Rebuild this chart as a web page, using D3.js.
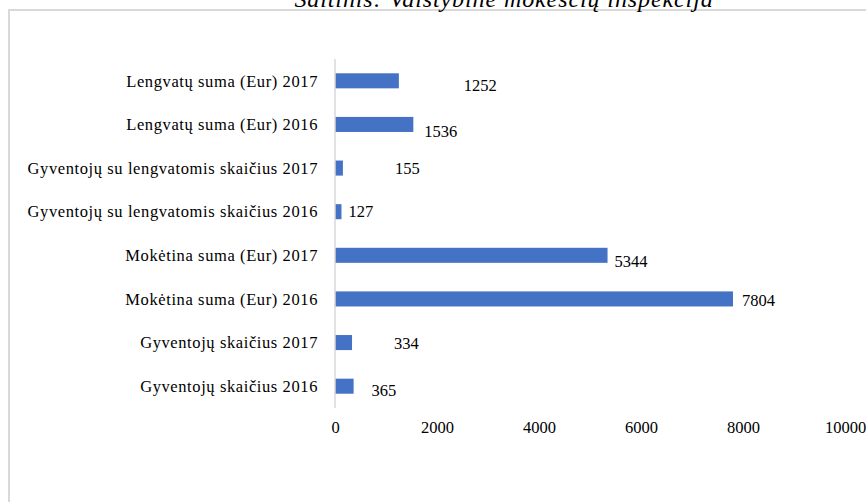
<!DOCTYPE html>
<html lang="lt">
<head>
<meta charset="UTF-8">
<title>Gyventojų skaičius ir mokėtina suma</title>
<script src="https://d3js.org/d3.v7.min.js"></script>
<style>
    body { margin: 0; background: #fff; }
    svg { display: block; font-family: "Liberation Serif", "Times New Roman", serif; }
    .cat { font-size: 16.5px; letter-spacing: 0.6px; fill: #000; text-anchor: end; }
    .tick text { font-size: 16.5px; fill: #000; }
    .val { font-size: 16.5px; fill: #000; }
    .source { font-size: 24px; letter-spacing: 0.9px; font-style: italic; fill: #000; text-anchor: middle; }
</style>
</head>
<body>
<svg id="chart" width="866" height="502"></svg>
<script>
    // categories, top to bottom as in the picture
    const categories = [
        "Lengvatų suma (Eur) 2017",
        "Lengvatų suma (Eur) 2016",
        "Gyventojų su lengvatomis skaičius 2017",
        "Gyventojų su lengvatomis skaičius 2016",
        "Mokėtina suma (Eur) 2017",
        "Mokėtina suma (Eur) 2016",
        "Gyventojų skaičius 2017",
        "Gyventojų skaičius 2016"
    ];
    const values = [1252, 1536, 155, 127, 5344, 7804, 334, 365];
    const xTicks = [0, 2000, 4000, 6000, 8000, 10000];
    // data labels were dragged around in the original, keep the same offsets (px)
    const labelDx = [65, 11, 52, 7, 7, 9, 42, 18];
    const labelDy = [4, 7, 0, 0, 6, 1, 1, 4];

    const svg = d3.select("#chart");

    // outer frame (only top and left edge are visible)
    svg.append("path")
        .attr("d", "M9,502V10H866")
        .attr("fill", "none")
        .attr("stroke", "#d9d9d9")
        .attr("stroke-width", 2);

    // source line, mostly cut off by the top edge
    svg.append("text")
        .attr("class", "source")
        .attr("x", 504)
        .attr("y", 7)
        .text("Šaltinis: Valstybinė mokesčių inspekcija");

    const x = d3.scaleLinear().domain([0, 10000]).range([335, 845]);
    const y = d3.scaleBand().domain(categories).range([59, 408])
        .paddingInner(0.655).paddingOuter(0.3275);

    // bars
    svg.selectAll(".bar")
        .data(values)
        .join("rect")
        .attr("class", "bar")
        .attr("x", x(0))
        .attr("y", (d, i) => y(categories[i]))
        .attr("width", d => x(d) - x(0))
        .attr("height", y.bandwidth())
        .attr("fill", "#4472c4");

    // vertical axis line
    svg.append("line")
        .attr("x1", x(0)).attr("x2", x(0))
        .attr("y1", 59).attr("y2", 408)
        .attr("stroke", "#d9d9d9")
        .attr("stroke-width", 1.5);

    // category labels
    svg.selectAll(".cat")
        .data(categories)
        .join("text")
        .attr("class", "cat")
        .attr("x", 318)
        .attr("y", d => y(d) + y.bandwidth() / 2)
        .attr("dy", "0.35em")
        .text(d => d);

    // x axis, labels only
    const xAxis = svg.append("g")
        .attr("transform", "translate(0,433)")
        .call(d3.axisBottom(x).tickValues(xTicks).tickSize(0).tickPadding(0).tickFormat(d3.format("d")));
    xAxis.attr("font-family", null).attr("font-size", null);
    xAxis.select(".domain").remove();
    xAxis.selectAll("text").attr("dy", 0).attr("y", 0);

    // value labels
    svg.selectAll(".val")
        .data(values)
        .join("text")
        .attr("class", "val")
        .attr("x", (d, i) => x(d) + labelDx[i])
        .attr("y", (d, i) => y(categories[i]) + y.bandwidth() / 2 + labelDy[i])
        .attr("dy", "0.35em")
        .text(d => d);
</script>
</body>
</html>
